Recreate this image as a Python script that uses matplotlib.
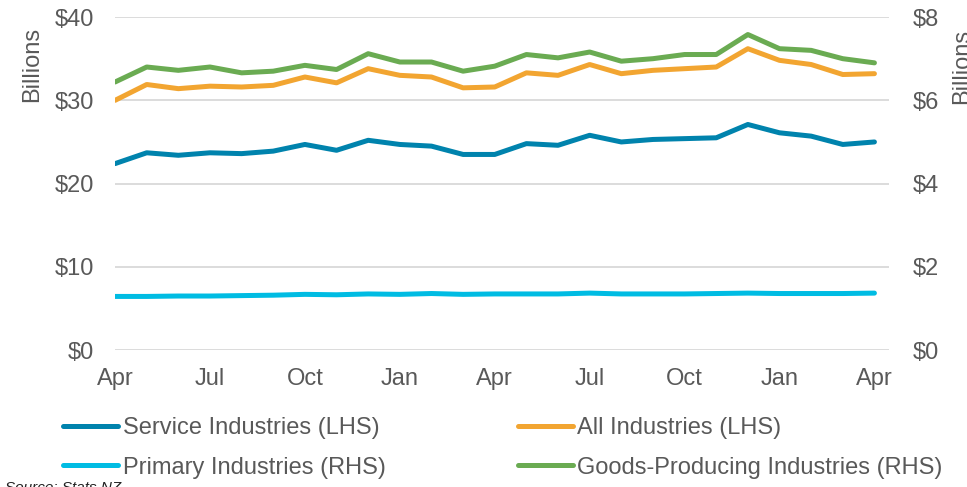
import matplotlib.pyplot as plt
import numpy as np

plt.rcParams['font.family'] = ['Liberation Sans', 'DejaVu Sans']

# monthly data, Apr to Apr (25 months)
months = ['Apr', 'May', 'Jun', 'Jul', 'Aug', 'Sep', 'Oct', 'Nov', 'Dec', 'Jan', 'Feb', 'Mar',
          'Apr', 'May', 'Jun', 'Jul', 'Aug', 'Sep', 'Oct', 'Nov', 'Dec', 'Jan', 'Feb', 'Mar', 'Apr']

# left axis ($ billions)
service = [22.4, 23.7, 23.4, 23.7, 23.6, 23.9, 24.7, 24.0, 25.2, 24.7, 24.5, 23.5, 23.5,
           24.8, 24.6, 25.8, 25.0, 25.3, 25.4, 25.5, 27.1, 26.1, 25.7, 24.7, 25.0]
all_ind = [30.0, 31.9, 31.4, 31.7, 31.6, 31.8, 32.8, 32.1, 33.8, 33.0, 32.8, 31.5, 31.6,
           33.3, 33.0, 34.3, 33.2, 33.6, 33.8, 34.0, 36.2, 34.8, 34.3, 33.1, 33.2]

# right axis ($ billions)
primary = [1.29, 1.29, 1.30, 1.30, 1.31, 1.32, 1.34, 1.33, 1.35, 1.34, 1.36, 1.34, 1.35,
           1.35, 1.35, 1.37, 1.35, 1.35, 1.35, 1.36, 1.37, 1.36, 1.36, 1.36, 1.37]
goods = [6.44, 6.80, 6.72, 6.80, 6.66, 6.70, 6.84, 6.74, 7.12, 6.92, 6.92, 6.70, 6.82,
         7.10, 7.02, 7.16, 6.94, 7.00, 7.10, 7.10, 7.58, 7.24, 7.20, 7.00, 6.90]

c_service = '#0083AD'
c_all = '#F2A531'
c_primary = '#00BCE3'
c_goods = '#6AAB52'
grey = '#595959'

x = np.arange(len(months))

fig = plt.figure(figsize=(9.67, 4.87), dpi=100)
ax = fig.add_axes([0.119, 0.281, 0.800, 0.684])
ax2 = ax.twinx()

lw = 3.6
l1, = ax.plot(x, service, color=c_service, lw=lw, solid_capstyle='round', solid_joinstyle='round')
l2, = ax.plot(x, all_ind, color=c_all, lw=lw, solid_capstyle='round', solid_joinstyle='round')
l3, = ax2.plot(x, primary, color=c_primary, lw=lw, solid_capstyle='round', solid_joinstyle='round')
l4, = ax2.plot(x, goods, color=c_goods, lw=lw, solid_capstyle='round', solid_joinstyle='round')

ax.set_xlim(0, 24.45)
ax.set_ylim(0, 40)
ax2.set_ylim(0, 8)
ax.set_yticks([0, 10, 20, 30, 40])
ax.set_yticklabels(['$0', '$10', '$20', '$30', '$40'])
ax2.set_yticks([0, 2, 4, 6, 8])
ax2.set_yticklabels(['$0', '$2', '$4', '$6', '$8'])
ax.set_xticks(x[::3])
ax.set_xticklabels(months[::3])

ax.grid(axis='y', color='#D9D9D9', lw=1.3)
ax.set_axisbelow(True)
for a in (ax, ax2):
    for s in a.spines.values():
        s.set_visible(False)
    a.tick_params(length=0, labelsize=17, colors=grey)
ax.tick_params(axis='y', pad=15)
ax2.tick_params(axis='y', pad=17)
ax.tick_params(axis='x', pad=13)

fig.text(0.033, 0.945, 'Billions', rotation=90, ha='center', va='top', fontsize=17, color=grey)
fig.text(0.995, 0.94, 'Billions', rotation=90, ha='center', va='top', fontsize=17, color=grey)

leg = fig.legend([l1, l3, l2, l4],
                 ['Service Industries (LHS)', 'Primary Industries (RHS)',
                  'All Industries (LHS)', 'Goods-Producing Industries (RHS)'],
                 ncol=2, loc='upper left', bbox_to_anchor=(0.065, 0.144),
                 frameon=False, fontsize=17, handlelength=2.33, handletextpad=0.2,
                 columnspacing=5.6, labelspacing=0.75, borderaxespad=0, borderpad=0)
for t in leg.get_texts():
    t.set_color(grey)

fig.text(0.005, 0.013, 'Source: Stats NZ', fontsize=11, style='italic', va='top', color='#222222')

fig.savefig('out.png', dpi=100)
